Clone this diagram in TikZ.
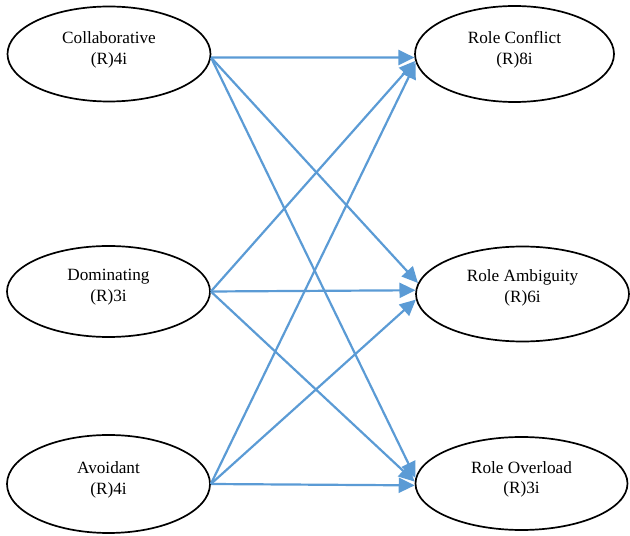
\documentclass[tikz,border=0pt]{standalone}
\usepackage{fontspec}
\setmainfont{Liberation Serif}
\usetikzlibrary{arrows.meta, shapes.geometric}
\definecolor{azulflecha}{RGB}{91,155,213}
\tikzset{
  elipse/.style={
    ellipse, draw=black, line width=1.7pt,
    align=center, text depth=12pt,
    font=\fontsize{17.2}{20.5}\selectfont
  },
  elipseIzq/.style={elipse, minimum width=203pt, minimum height=95pt},
  flecha/.style={-{Triangle[length=16pt, width=15pt]}, line width=2.2pt, azulflecha},
}
\begin{document}
\begin{tikzpicture}[x=1pt, y=1pt]
    \useasboundingbox (0,0) rectangle (630,536);
    % estilos de manejo de conflicto
    \node[elipseIzq] (colab) at (109,482) {Collaborative\\(R)4i};
    \node[elipseIzq, minimum height=91pt] (domin) at (108.5,244.5) {Dominating\\(R)3i};
    \node[elipseIzq, minimum height=98pt] (evita) at (108.5,52) {Avoidant\\(R)4i};
    % estres de rol
    \node[elipse, minimum width=199pt, minimum height=96pt] (conf) at (514.5,482) {Role Conflict\\(R)8i};
    \node[elipse, minimum width=213pt, minimum height=95pt, text depth=16pt] (ambig) at (522.5,242) {Role Ambiguity\\(R)6i};
    \node[elipse, minimum width=212pt, minimum height=93pt] (sobre) at (521.5,52.5) {Role Overload\\(R)3i};

    \draw[flecha] (colab.-2) -- (conf.182);
    \draw[flecha] (colab.-2) -- (ambig.174);
    \draw[flecha] (colab.-2) -- (sobre.177);
    \draw[flecha] (domin.east) -- (conf.184);
    \draw[flecha] (domin.east) -- (ambig.178);
    \draw[flecha] (domin.east) -- (sobre.179);
    \draw[flecha] (evita.east) -- (conf.185);
    \draw[flecha] (evita.east) -- (ambig.183);
    \draw[flecha] (evita.east) -- (sobre.181);
  \end{tikzpicture}
\end{document}
